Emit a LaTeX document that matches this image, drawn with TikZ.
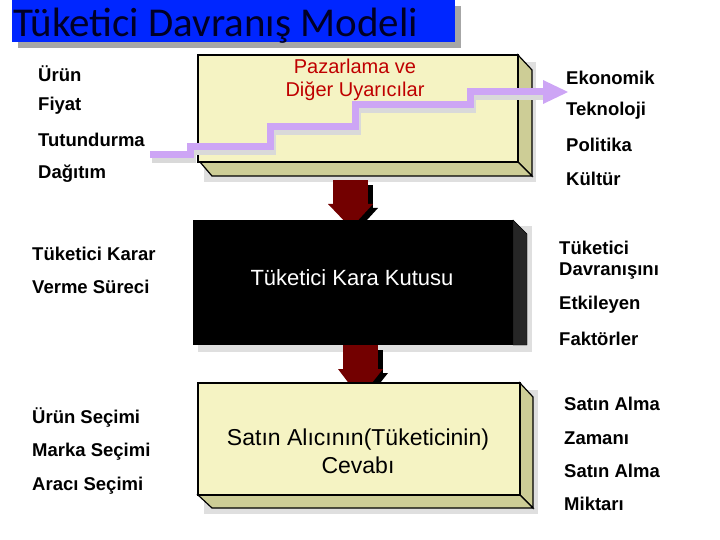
\documentclass[tikz,border=0pt]{standalone}
\usepackage{fontspec}
\setmainfont{Liberation Sans}
\newfontfamily\titlefont{Carlito}
\definecolor{lav}{RGB}{205,165,245}
\definecolor{ylw}{RGB}{245,243,195}
\definecolor{yls}{RGB}{205,205,150}
\begin{document}
\begin{tikzpicture}[x=1pt,y=-1pt,
  lbl/.style={anchor=west,font=\fontsize{18.5}{21}\selectfont\bfseries,inner sep=0},
  ybox/.style={fill=ylw,draw=black,line width=1.2pt},
  yside/.style={fill=yls,draw=black,line width=1.2pt}]
\useasboundingbox (0,0) rectangle (720,540);
% title
\fill[gray!70] (18,6) rectangle (461,48);
\fill[blue!75!cyan!60!blue] (12,0) rectangle (455,42);
\node[font=\titlefont\fontsize{41}{43}\selectfont,text=black!85!blue,anchor=base west,inner sep=0] (title) at (13,37) {Tüketici Davranış Modeli};
% top box
\fill[gray!25] (204,62) rectangle (536,182);
\draw[yside] (518,55) -- (532,70) -- (532,176) -- (518,162) -- cycle;
\draw[yside] (200,162) -- (518,162) -- (532,176) -- (212,176) -- cycle;
\draw[ybox] (198,55) rectangle (518,162);
\node[text=red!75!black,font=\fontsize{20}{23}\selectfont,align=center] (stim) at (355,80) {Pazarlama ve\\Diğer Uyarıcılar};
% staircase
\draw[gray!30,line width=8pt] (152,159) -- (192,159) -- (192,151) -- (272,151) -- (272,131) -- (357,131) -- (357,109) -- (472,109) -- (472,96) -- (545,96);
\draw[lav,line width=7pt] (150,155) -- (190,155) -- (190,147) -- (270,147) -- (270,127) -- (355,127) -- (355,105) -- (470,105) -- (470,92) -- (545,92);
\fill[lav] (543,80) -- (568,92) -- (543,104) -- cycle;
\coordinate (stairend) at (568,92);
% arrow 1
\fill[black] (338,185) rectangle (373,210);
\fill[black] (334,208) -- (378,208) -- (356,232) -- cycle;
\fill[red!45!black] (333,180) rectangle (368,205);
\fill[red!45!black] (328,204) -- (373,204) -- (351,228) -- cycle;
% black box
\fill[gray!25] (198,226) rectangle (532,352);
\draw[fill=gray!30!black,draw=black] (513,220) -- (527,234) -- (527,345) -- (513,345) -- cycle;
\fill[black] (193,220) rectangle (513,345);
\node[text=white,font=\fontsize{22}{24}\selectfont] (black) at (352,278) {Tüketici Kara Kutusu};
% arrow 2
\fill[black] (348,350) rectangle (383,375);
\fill[black] (343,373) -- (388,373) -- (365,402) -- cycle;
\fill[red!45!black] (343,345) rectangle (378,370);
\fill[red!45!black] (338,369) -- (383,369) -- (360,398) -- cycle;
% bottom box
\fill[gray!25] (204,390) rectangle (538,514);
\draw[yside] (520,383) -- (533,397) -- (533,508) -- (520,495) -- cycle;
\draw[yside] (198,495) -- (520,495) -- (533,508) -- (212,508) -- cycle;
\draw[ybox] (198,383) rectangle (520,495);
\node[font=\fontsize{23}{28}\selectfont,align=center] (resp) at (358,451) {Satın Alıcının(Tüketicinin)\\Cevabı};
% left labels
\node[lbl] (l1) at (38,74) {Ürün};
\node[lbl] (l2) at (38,106) {Fiyat};
\node[lbl] (l3) at (38,140) {Tutundurma};
\node[lbl] (l4) at (38,174) {Dağıtım};
\node[lbl] (l5) at (32,254) {Tüketici Karar};
\node[lbl] (l6) at (32,287) {Verme Süreci};
\node[lbl] (l7) at (32,418) {Ürün Seçimi};
\node[lbl] (l8) at (32,452) {Marka Seçimi};
\node[lbl] (l9) at (32,486) {Aracı Seçimi};
% right labels
\node[lbl] (r1) at (566,78) {Ekonomik};
\node[lbl] (r2) at (566,111) {Teknoloji};
\node[lbl] (r3) at (566,145) {Politika};
\node[lbl] (r4) at (566,179) {Kültür};
\node[lbl,align=left] (r5) at (559,260) {Tüketici\\Davranışını};
\node[lbl] (r6) at (559,305) {Etkileyen};
\node[lbl] (r7) at (559,339) {Faktörler};
\node[lbl] (r8) at (564,404) {Satın Alma};
\node[lbl] (r9) at (564,438) {Zamanı};
\node[lbl] (r10) at (564,471) {Satın Alma};
\node[lbl] (r11) at (564,504) {Miktarı};
\end{tikzpicture}
\end{document}
